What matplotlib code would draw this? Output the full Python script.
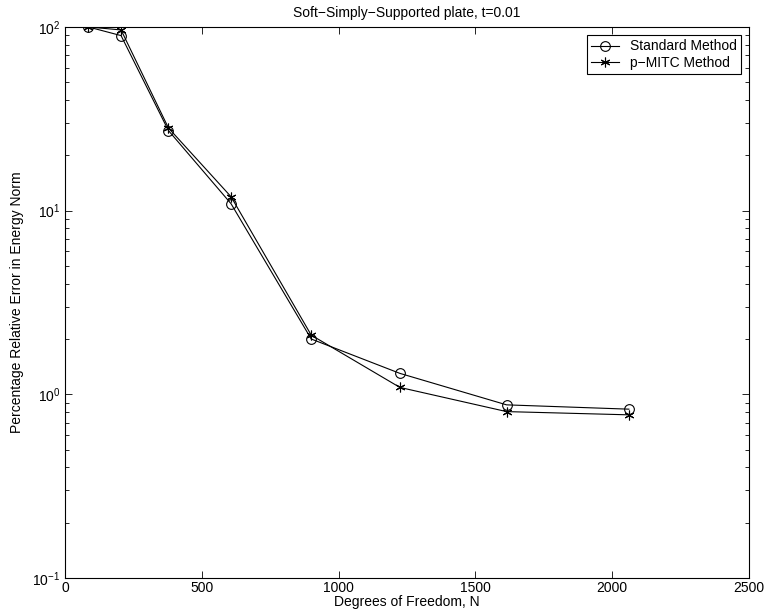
import matplotlib
matplotlib.use("Agg")
import matplotlib.pyplot as plt
import numpy as np

plt.rcParams["font.family"] = ["Liberation Sans", "DejaVu Sans"]
plt.rcParams["font.size"] = 10

## DATA
dof = [85, 205, 378, 607, 900, 1224, 1614, 2061]
standard_err = [100, 89.7, 27.3, 10.9, 2.0, 1.30, 0.876, 0.83]
pmitc_err = [100, 96.3, 28.2, 11.9, 2.1, 1.09, 0.805, 0.773]

x_ticks = [0, 500, 1000, 1500, 2000, 2500]

## PLOT
fig = plt.figure(figsize=(7.69, 6.15), dpi=100)
ax = fig.add_axes([0.0845, 0.0602, 0.8895, 0.896])

ax.semilogy(dof, standard_err, color="black", lw=0.8, marker="o",
            markersize=7, markerfacecolor="none", markeredgewidth=0.8,
            label="Standard Method")
ax.semilogy(dof, pmitc_err, color="black", lw=0.8, marker=(6, 2, 0),
            markersize=7, markeredgewidth=0.8, label="p\u2212MITC Method")

ax.set_xlim(0, 2500)
ax.set_ylim(0.1, 100)
ax.set_xticks(x_ticks)
ax.tick_params(which="both", direction="in", top=True, right=True,
               labelsize=10, width=0.6)
ax.tick_params(axis="x", pad=2)
ax.tick_params(which="major", length=5)
ax.tick_params(which="minor", length=3)
for s in ax.spines.values():
    s.set_linewidth(0.8)

ax.set_xlabel("Degrees of Freedom, N", fontsize=10, labelpad=0)
ax.set_ylabel("Percentage Relative Error in Energy Norm", fontsize=10, labelpad=6)
ax.set_title("Soft\u2212Simply\u2212Supported plate, t=0.01", fontsize=10, pad=7)

leg = ax.legend(loc="upper right", fontsize=10, frameon=True, fancybox=False,
                edgecolor="black", framealpha=1, borderpad=0.3,
                handlelength=2.0, labelspacing=0.15, borderaxespad=0.6)
leg.get_frame().set_linewidth(0.8)

fig.savefig("out.png", dpi=100)
